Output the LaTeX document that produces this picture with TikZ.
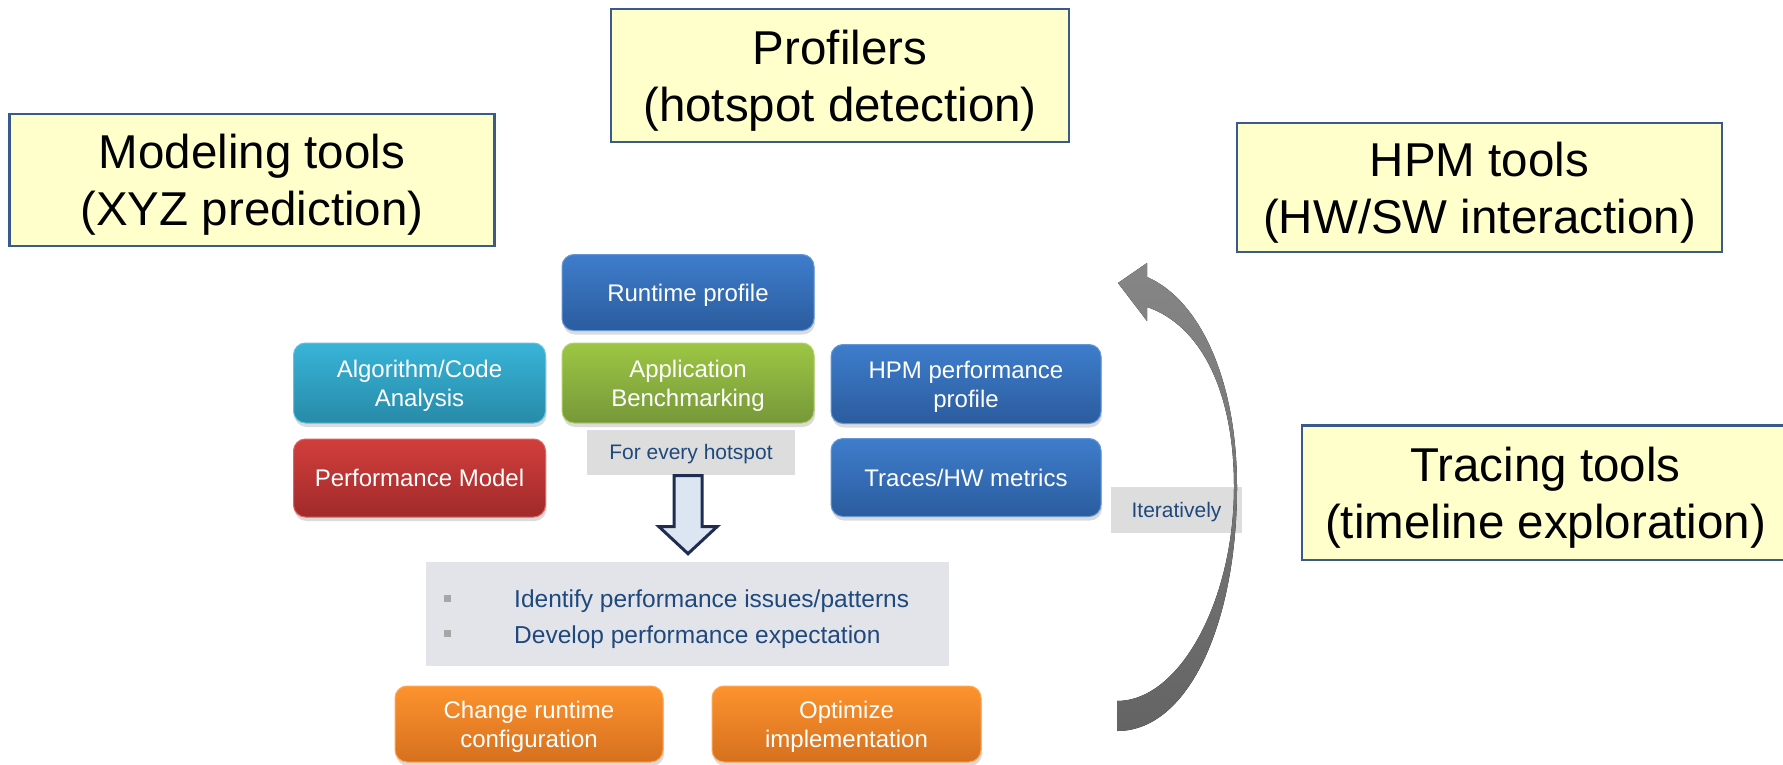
\documentclass[tikz,border=0pt]{standalone}
\usepackage{fontspec}
\setmainfont{Liberation Sans}
\usetikzlibrary{shadows}
\definecolor{ybfill}{HTML}{FFFFCC}
\definecolor{ybdraw}{HTML}{3B5A8C}
\definecolor{bluetop}{RGB}{62,125,204}
\definecolor{bluebot}{RGB}{43,92,158}
\definecolor{cyantop}{RGB}{56,180,216}
\definecolor{cyanbot}{RGB}{40,138,168}
\definecolor{greentop}{RGB}{158,198,67}
\definecolor{greenbot}{RGB}{118,152,58}
\definecolor{redtop}{RGB}{210,62,60}
\definecolor{redbot}{RGB}{160,42,42}
\definecolor{orangetop}{RGB}{253,147,46}
\definecolor{orangebot}{RGB}{214,112,30}
\definecolor{labelgray}{HTML}{DDDDDD}
\definecolor{listgray}{HTML}{E3E4EA}
\definecolor{textblue}{RGB}{31,73,125}
\definecolor{bulletgray}{HTML}{A6A6A6}
\definecolor{arrowedge}{RGB}{31,45,80}
\definecolor{arrowfill}{HTML}{DCE6F2}
\definecolor{loopa}{RGB}{134,134,134}
\definecolor{loopb}{RGB}{100,100,100}
\tikzset{
  ybox/.style={draw=ybdraw, line width=2.5pt, fill=ybfill, align=center, inner sep=0pt,
    text depth=0pt, font=\fontsize{47.5}{57}\selectfont},
  yedge/.style={draw=ybdraw, line width=2.5pt, line join=miter},
  rbox/.style={rounded corners=12pt, align=center, inner sep=0pt, text=white, line width=1pt,
    text depth=0pt, font=\fontsize{24}{28.8}\selectfont,
    drop shadow={shadow xshift=1pt, shadow yshift=-4pt, opacity=0.28}},
  bluebox/.style={rbox, top color=bluetop, bottom color=bluebot, draw=bluetop!80!white},
  cyanbox/.style={rbox, top color=cyantop, bottom color=cyanbot, draw=cyantop!80!white},
  greenbox/.style={rbox, top color=greentop, bottom color=greenbot, draw=greentop!80!white},
  redbox/.style={rbox, top color=redtop, bottom color=redbot, draw=redtop!80!white},
  orangebox/.style={rbox, top color=orangetop, bottom color=orangebot, draw=orangetop!80!white},
  glabel/.style={fill=labelgray, inner sep=0pt, text=textblue, text depth=0pt,
    font=\fontsize{21}{25}\selectfont},
  listtext/.style={inner sep=0pt, text=textblue, font=\fontsize{24.5}{30}\selectfont, anchor=base west},
  bulletsq/.style={fill=bulletgray, inner sep=0pt, minimum size=7pt},
  blockarrow/.style={draw=arrowedge, fill=arrowfill, line width=3pt, line join=miter},
  loopfill/.style={top color=loopa, bottom color=loopb, draw=none}
}
\begin{document}
\begin{tikzpicture}[x=1pt,y=-1pt]
\useasboundingbox (0,0) rectangle (1783,765);
\clip (0,0) rectangle (1783,765);
\fill[white] (0,0) rectangle (1783,765);

% yellow tool boxes
\node[ybox, minimum width=458pt, minimum height=133pt] (prof) at (840,75.5) {Profilers\\(hotspot detection)};
\node[ybox, minimum width=485pt, minimum height=132pt] (model) at (252,180) {Modeling tools\\(XYZ prediction)};
\node[ybox, minimum width=485pt, minimum height=129pt] (hpm) at (1479.5,187.5) {HPM tools\\(HW/SW interaction)};
\node[ybox, draw=none, minimum width=485pt, minimum height=132pt] (trace) at (1545.5,492.5) {Tracing tools\\(timeline exploration)};
\fill[ybfill] (trace.north east) rectangle ([xshift=20pt]trace.south east);
\draw[yedge] ([xshift=20pt]trace.north east) -- (trace.north west) -- (trace.south west) -- ([xshift=20pt]trace.south east);

% coloured boxes
\node[bluebox, minimum width=252pt, minimum height=76pt] (rt) at (688,292.5) {Runtime profile};
\node[cyanbox, minimum width=252pt, minimum height=80pt] (alg) at (419.5,383) {Algorithm/Code\\Analysis};
\node[greenbox, minimum width=252pt, minimum height=80pt] (app) at (688,383) {Application\\Benchmarking};
\node[bluebox, minimum width=270pt, minimum height=79pt] (hpmp) at (966,384) {HPM performance\\profile};
\node[redbox, minimum width=252pt, minimum height=78pt] (pm) at (419.5,478) {Performance Model};
\node[bluebox, minimum width=270pt, minimum height=78pt] (trc) at (966,477.5) {Traces/HW metrics};
\node[orangebox, minimum width=268pt, minimum height=76pt] (chg) at (529,724) {Change runtime\\configuration};
\node[orangebox, minimum width=269pt, minimum height=76pt] (opt) at (846.5,724) {Optimize\\implementation};

% grey labels
\node[glabel, minimum width=208pt, minimum height=45pt] (hot) at (691,452) {For every hotspot};
\node[glabel, minimum width=131pt, minimum height=46pt] (iter) at (1176.5,510) {Iteratively};

% list box
\node[fill=listgray, inner sep=0pt, minimum width=523pt, minimum height=104pt] (issues) at (687.5,614) {};
\node[bulletsq] (b1) at (447,598) {};
\node[bulletsq] (b2) at (447,633) {};
\node[listtext] (l1) at (514,607.5) {Identify performance issues/patterns};
\node[listtext] (l2) at (514,643) {Develop performance expectation};

% block arrow from hotspot label to list box
\draw[blockarrow] ([xshift=-3pt]hot.south) ++(-14,1) -- ++(28,0) -- ++(0,51) -- ++(15,0)
  -- ++(-29,27) -- ++(-29,-27) -- ++(15,0) -- cycle;

% curved loop arrow
\coordinate (lbotin) at (1117,701);
\coordinate (lbotout) at (1117,731);
\coordinate (lmidin) at (1234,487);
\coordinate (lmidout) at (1237,487);
\coordinate (ltopin) at (1147,307);
\coordinate (ltopout) at (1147,277);
\coordinate (lheadlo) at (1147,321);
\coordinate (lheadhi) at (1147,263);
\coordinate (ltip) at (1118,283);
\fill[loopfill] (lbotin) .. controls (1180,701) and (1234,600) .. (lmidin)
  .. controls (1234,390) and (1200,325) .. (ltopin) -- (lheadlo) -- (ltip) -- (lheadhi) -- (ltopout)
  .. controls (1200,300) and (1237,380) .. (lmidout)
  .. controls (1237,620) and (1190,731) .. (lbotout) -- cycle;
\end{tikzpicture}
\end{document}
